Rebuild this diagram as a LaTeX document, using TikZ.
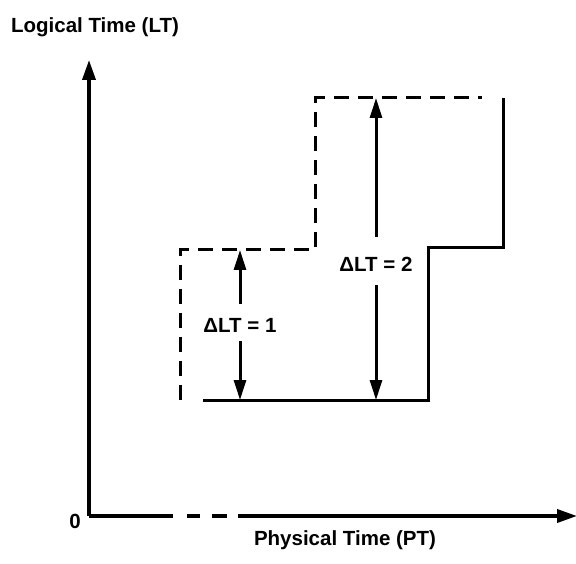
\documentclass[tikz,border=0pt]{standalone}
\usepackage{fontspec}
\setmainfont{Liberation Sans}
\usetikzlibrary{arrows.meta}

\begin{document}
\begin{tikzpicture}[x=1pt,y=-1pt,
  lbl/.style={font=\bfseries\fontsize{20.5}{22}\selectfont,inner sep=0pt,anchor=base},
  dlbl/.style={lbl,inner ysep=9pt},
  axis/.style={line width=3.6pt,-{Triangle[length=20pt,width=13pt]}},
  now/.style={line width=3pt},
  before/.style={line width=3pt,dash pattern=on 15pt off 9pt},
  delta/.style={line width=3pt,-{Triangle[length=20pt,width=12pt]}}]
\useasboundingbox (0,0) rectangle (576,564);
% axes
\coordinate (o) at (89,516);
\coordinate (ytop) at (89,60);
\coordinate (xend) at (577,516);
\draw[axis] (o)--(ytop);
\draw[axis,dash pattern=on 84pt off 14pt on 13pt off 12pt on 15pt off 11pt on 500pt] (o)--(xend);
\node[lbl] (lt) at (95,33) {Logical Time (LT)};
\node[lbl] (pt) at (345,545) {Physical Time (PT)};
\node[lbl] (zero) at (75,528) {0};
% clock before and after
\draw[before] (180,400)--(180,250)--(315,250)--(315,98)--(482,98);
\draw[now] (203,400)--(428,400)--(428,248)--(503,248)--(503,98);
% differences
\coordinate (up1) at (240,250);\coordinate (dn1) at (240,400);
\coordinate (up2) at (376,98);\coordinate (dn2) at (376,400);
\node[dlbl] (d1) at (240,332) {ΔLT = 1};
\node[dlbl] (d2) at (376,272) {ΔLT = 2};
\draw[delta,shorten <=5pt] (d1)--(up1);
\draw[delta] (d1)--(dn1);
\draw[delta,shorten <=11pt] (d2)--(up2);
\draw[delta,shorten <=4pt] (d2)--(dn2);
\end{tikzpicture}
\end{document}
